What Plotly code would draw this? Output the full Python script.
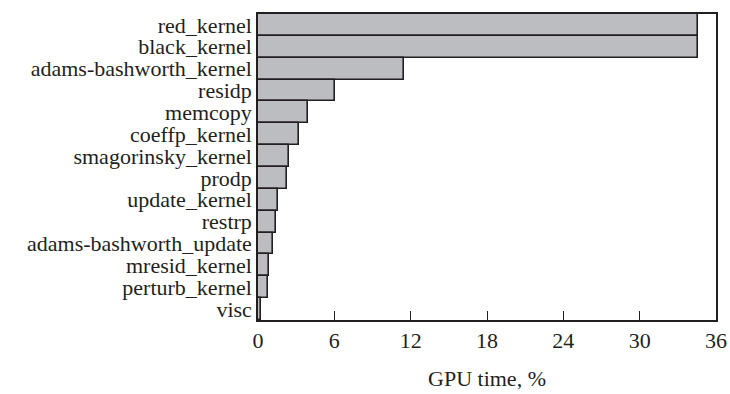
import plotly.graph_objects as go

kernels = ["red_kernel", "black_kernel", "adams-bashworth_kernel", "residp", "memcopy",
           "coeffp_kernel", "smagorinsky_kernel", "prodp", "update_kernel", "restrp",
           "adams-bashworth_update", "mresid_kernel", "perturb_kernel", "visc"]
gpu_time = [34.6, 34.6, 11.5, 6.05, 3.95, 3.2, 2.45, 2.25, 1.6, 1.4, 1.2, 0.9, 0.8, 0.25]
x_ticks = [0, 6, 12, 18, 24, 30, 36]

font = "Liberation Serif, Times New Roman, serif"
ink = "#231f20"

fig = go.Figure(go.Bar(
    x=gpu_time, y=kernels, orientation="h",
    marker=dict(color="#bcbdc0", line=dict(color=ink, width=1.6)),
))

fig.update_layout(
    width=730, height=394,
    margin=dict(l=258, r=14, t=14, b=74, autoexpand=False),
    paper_bgcolor="white", plot_bgcolor="white",
    bargap=0,
    showlegend=False,
    font=dict(family=font, color=ink),
)
fig.update_xaxes(
    range=[0, 36], tickmode="array", tickvals=x_ticks, ticktext=[str(v) for v in x_ticks],
    ticks="inside", ticklen=9, tickwidth=1.3, tickcolor=ink,
    showline=True, linecolor=ink, linewidth=1.5, mirror=True,
    showgrid=False, zeroline=False, automargin=False, ticklabeloverflow="allow",
    tickfont=dict(size=22, family=font, color=ink),
    title=dict(text="GPU time, %", font=dict(size=22, family=font, color=ink), standoff=18),
)
fig.update_yaxes(
    autorange="reversed",
    tickmode="array", tickvals=kernels, ticktext=kernels,
    showline=True, linecolor=ink, linewidth=1.5, mirror=True,
    showgrid=False, ticks="", ticklen=0, automargin=False,
    tickfont=dict(size=22, family=font, color=ink),
)

fig.write_html("out.html", config={"displayModeBar": False},
               post_script="document.body.style.margin='0';document.body.style.overflow='hidden';")
